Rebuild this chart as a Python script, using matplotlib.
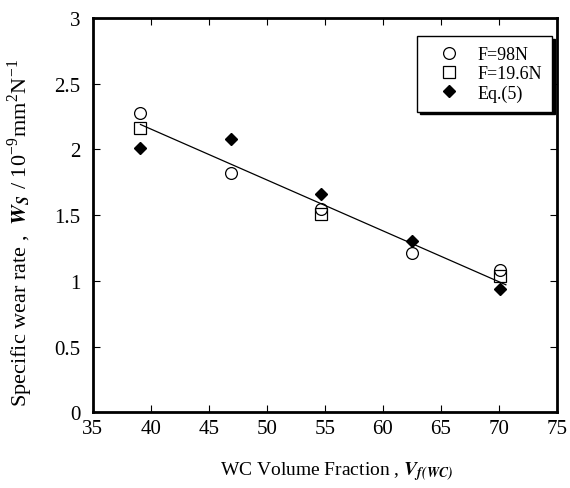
import matplotlib.pyplot as plt

# ============================================================
# Data
# ============================================================

x_98n = [39.1, 46.9, 54.7, 62.5, 70.1]
ws_98n = [2.28, 1.82, 1.55, 1.21, 1.08]

x_196n = [39.1, 54.7, 70.1]
ws_196n = [2.16, 1.51, 1.04]

x_eq5 = [39.1, 46.9, 54.7, 62.5, 70.1]
ws_eq5 = [2.01, 2.08, 1.66, 1.30, 0.94]

# regression line end points
fit_x = [39.1, 70.6]
fit_y = [2.19, 0.97]

x_ticks = [35, 40, 45, 50, 55, 60, 65, 70, 75]
y_ticks = [0, 0.5, 1, 1.5, 2, 2.5, 3]
y_tick_labels = ["0", "0.5", "1", "1.5", "2", "2.5", "3"]

# ============================================================
# Style
# ============================================================

plt.rcParams["font.family"] = ["Liberation Serif", "DejaVu Serif"]
plt.rcParams["mathtext.fontset"] = "stix"

fig = plt.figure(figsize=(5.7, 4.89), dpi=100)
ax = fig.add_axes([0.163, 0.155, 0.814, 0.806])

# ============================================================
# Plot
# ============================================================

ax.plot(fit_x, fit_y, color="black", linewidth=0.9, zorder=2)

ax.plot(x_98n, ws_98n, linestyle="none", marker="o", markersize=8.5,
        markerfacecolor="none", markeredgecolor="black",
        markeredgewidth=0.9, label="F=98N", zorder=3)

ax.plot(x_196n, ws_196n, linestyle="none", marker="s", markersize=8,
        markerfacecolor="none", markeredgecolor="black",
        markeredgewidth=0.9, label="F=19.6N", zorder=3)

ax.plot(x_eq5, ws_eq5, linestyle="none", marker="D", markersize=6,
        color="black", label="Eq.(5)", zorder=3)

ax.set_xlim(35, 75)
ax.set_ylim(0, 3)

ax.set_xticks(x_ticks)
ax.set_yticks(y_ticks)
ax.set_yticklabels(y_tick_labels)

ax.tick_params(direction="in", length=5, width=0.8, labelsize=15,
               top=True, right=True)
ax.tick_params(axis="x", pad=5)
ax.tick_params(axis="y", pad=9)

for spine in ax.spines.values():
    spine.set_linewidth(2)

ax.set_xlabel(r"WC Volume Fraction , $\mathbfit{V}_{\mathbfit{f(WC)}}$",
              fontsize=14)
ax.xaxis.set_label_coords(0.525, -0.118)

ax.set_ylabel(r"Specific wear rate ,  $\mathbfit{W}_{\mathbfit{S}}$ / 10$^{\mathregular{-9}}$mm$^{\mathregular{2}}$N$^{\mathregular{-1}}$",
              fontsize=16)
ax.yaxis.set_label_coords(-0.125, 0.457)

leg = ax.legend(loc="upper right", bbox_to_anchor=(0.989, 0.954),
                fontsize=13, frameon=True, fancybox=False,
                shadow={"facecolor": "black", "edgecolor": "black", "alpha": 1},
                edgecolor="black", borderpad=0.55, handletextpad=0.3,
                labelspacing=0.12, handlelength=2.5, borderaxespad=0)
leg.get_frame().set_linewidth(1)
leg.get_frame().set_alpha(1)

fig.savefig("out.png", dpi=100)
